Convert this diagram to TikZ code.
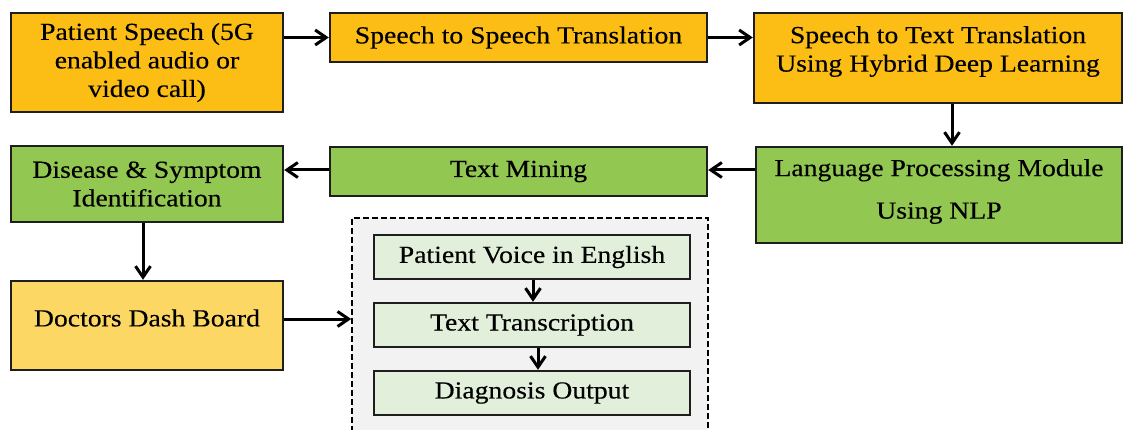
\documentclass[tikz,border=0pt]{standalone}
\usepackage{fontspec}
\setmainfont{Liberation Serif}[FakeStretch=1.13,FakeBold=0.3]
\usetikzlibrary{arrows.meta,calc}
\definecolor{gold}{RGB}{252,190,20}
\definecolor{lgold}{RGB}{253,215,100}
\definecolor{grn}{RGB}{146,199,82}
\definecolor{lgrn}{RGB}{226,239,218}
\definecolor{panel}{RGB}{242,242,242}
\definecolor{edge}{RGB}{30,30,30}
\begin{document}
\begin{tikzpicture}[x=1pt,y=-1pt,
  every node/.style={font=\fontsize{24.5}{28.5}\selectfont},
  box/.style={draw=edge,line width=2.4pt,rectangle,inner sep=0pt,align=center},
  txt/.style={align=center,inner sep=0pt},
  arr/.style={line width=3pt,draw=black,-{Straight Barb[length=11pt,width=15pt,line width=3pt]}},
  grpbox/.style={draw=black,dash pattern=on 6pt off 3pt,line width=1.6pt,fill=panel,rectangle,inner sep=0pt}
]
\useasboundingbox (0,0) rectangle (1123,430);
\fill[white] (0,0) rectangle (1123,430);

% top row
\node[box,fill=gold,minimum width=272pt,minimum height=99pt] (p1) at (147,62.5)
  {Patient Speech (5G\\enabled audio or\\video call)};
\node[box,fill=gold,minimum width=377pt,minimum height=49pt] (s2s) at (518.5,37.5)
  {Speech to Speech Translation};
\node[box,fill=gold,minimum width=368pt,minimum height=90pt,
  label={[txt,yshift=6.5pt]center:Speech to Text Translation\\Using Hybrid Deep Learning}] (stt) at (938,58) {};

% middle row
\node[box,fill=grn,minimum width=366pt,minimum height=96pt,
  label={[txt,yshift=3.5pt]center:Language Processing Module\\[14pt]Using NLP}] (lpm) at (939,195) {};
\node[box,fill=grn,minimum width=377pt,minimum height=49pt] (tm) at (518.5,171.5)
  {Text Mining};
\node[box,fill=grn,minimum width=272pt,minimum height=76pt] (dis) at (147,184)
  {Disease \& Symptom\\Identification};

% bottom
\node[box,fill=lgold,minimum width=272pt,minimum height=89pt,
  label={[txt,yshift=7.5pt]center:Doctors Dash Board}] (doc) at (147,325.5) {};

\node[grpbox,minimum width=356pt,minimum height=232pt] (grp) at (530,334) {};
\node[box,fill=lgrn,minimum width=316pt,minimum height=44pt] (pv) at (532,257)
  {Patient Voice in English};
\node[box,fill=lgrn,minimum width=316pt,minimum height=44pt] (tt) at (532,325)
  {Text Transcription};
\node[box,fill=lgrn,minimum width=316pt,minimum height=44pt] (dout) at (532,393)
  {Diagnosis Output};

% connectors
\draw[arr] ([yshift=25pt]p1.east) -- ([yshift=25pt]p1.east -| s2s.west);
\draw[arr] (s2s.east) -- (s2s.east -| stt.west);
\draw[arr] ([xshift=14pt]stt.south) -- ([xshift=14pt]stt.south |- lpm.north);
\draw[arr] ([yshift=1.5pt]tm.east -| lpm.west) -- ([yshift=1.5pt]tm.east);
\draw[arr] ([yshift=1.5pt]tm.west) -- ([yshift=1.5pt]tm.west -| dis.east);
\draw[arr] ([xshift=-4pt]dis.south) -- ([xshift=-4pt]dis.south |- doc.north);
\draw[arr] ([yshift=6.5pt]doc.east) -- ([yshift=6.5pt]doc.east -| grp.west);
\draw[arr] ([xshift=1pt]pv.south) -- ([xshift=1pt]pv.south |- tt.north);
\draw[arr] ([xshift=6pt]tt.south) -- ([xshift=6pt]tt.south |- dout.north);
\end{tikzpicture}
\end{document}
